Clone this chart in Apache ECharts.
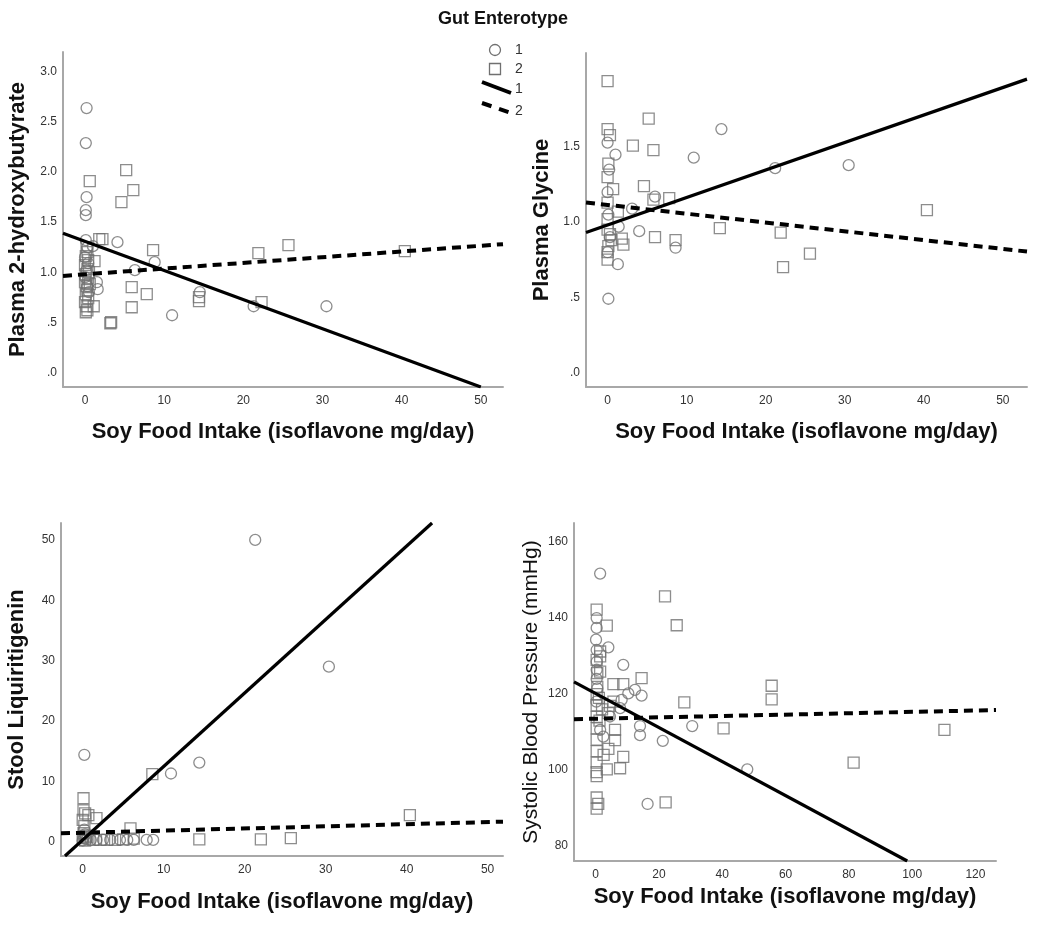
<!DOCTYPE html>
<html>
<head>
<meta charset="utf-8">
<script src="https://cdn.jsdelivr.net/npm/echarts@6/dist/echarts.min.js"></script>
<style>html,body{margin:0;padding:0;background:#fff}#c{width:1050px;height:928px}</style>
</head>
<body>
<div id="c"></div>
<script>
// ---------- DATA ----------
const xTitle = 'Soy Food Intake (isoflavone mg/day)';
const yTitles = ['Plasma 2-hydroxybutyrate', 'Plasma Glycine', 'Stool Liquiritigenin', 'Systolic Blood Pressure (mmHg)'];
const legendTitle = 'Gut Enterotype';
const groupNames = ['1', '2'];

// Panel 1: Plasma 2-hydroxybutyrate
const p1Type1 = [[0.2,2.64],[0.1,2.29],[0.2,1.75],[0.1,1.62],[0.1,1.57],[0.1,1.32],[0.3,1.25],[0.0,1.15],[0.4,1.09],[0.2,1.02],[0.0,0.95],[0.3,0.86],[1.5,0.90],[1.6,0.83],[0.5,0.80],[4.1,1.30],[6.3,1.02],[8.8,1.10],[11.0,0.57],[14.5,0.80],[21.3,0.66],[30.5,0.66],[1.0,1.26]];
const p1Type2 = [[0.6,1.91],[5.2,2.02],[6.1,1.82],[4.6,1.70],[1.8,1.33],[2.2,1.33],[8.6,1.22],[21.9,1.19],[25.7,1.27],[40.4,1.21],[5.9,0.85],[7.8,0.78],[5.9,0.65],[3.2,0.49],[3.3,0.50],[14.4,0.71],[14.4,0.75],[22.3,0.70],[1.1,0.66],[1.2,1.11],[0.2,1.25],[0.3,1.20],[0.1,1.16],[0.4,1.12],[0.0,1.07],[0.3,1.03],[0.1,0.98],[0.4,0.94],[0.0,0.90],[0.2,0.86],[0.3,0.82],[0.1,0.78],[0.4,0.74],[0.0,0.70],[0.2,0.66],[0.3,0.62],[0.1,0.60],[0.5,1.00],[0.6,0.88]];
const p1Fit1 = [[-2.78,1.39],[50.0,-0.147]];
const p1Fit2 = [[-2.78,0.963],[52.8,1.28]];

// Panel 2: Plasma Glycine
const p2Type1 = [[14.4,1.62],[10.9,1.43],[21.2,1.36],[30.5,1.38],[4.0,0.94],[8.6,0.83],[0.1,0.49],[0.0,1.53],[1.0,1.45],[1.3,0.72],[6.0,1.17],[3.1,1.09],[1.4,0.97],[0.0,1.20],[0.2,1.35],[0.1,1.05],[0.3,0.90],[0.0,0.80]];
const p2Type2 = [[0.0,1.94],[5.2,1.69],[0.0,1.62],[0.3,1.58],[3.2,1.51],[5.8,1.48],[0.1,1.39],[0.0,1.30],[0.7,1.22],[4.6,1.24],[5.8,1.15],[7.8,1.16],[14.2,0.96],[21.9,0.93],[40.4,1.08],[25.6,0.79],[22.2,0.70],[6.0,0.90],[8.6,0.88],[1.8,0.89],[2.0,0.85],[0.5,0.88],[0.0,0.75],[0.1,0.84],[1.3,1.07],[0.0,1.02],[0.0,0.95],[0.0,1.13],[0.0,0.80],[0.3,0.92]];
const p2Fit1 = [[-2.73,0.931],[53.06,1.953]];
const p2Fit2 = [[-2.73,1.131],[53.06,0.804]];

// Panel 3: Stool Liquiritigenin
const p3Type1 = [[21.3,50.0],[30.4,29.0],[0.2,14.4],[14.4,13.1],[10.9,11.3],[8.7,0.3],[0.1,0.6],[0.3,1.2],[0.5,0.4],[1.0,0.3],[1.7,0.3],[2.5,0.3],[3.4,0.3],[4.6,0.3],[5.5,0.3],[6.3,0.3],[7.9,0.3],[0.2,2.0],[0.0,0.2]];
const p3Type2 = [[8.6,11.2],[40.4,4.4],[0.1,7.2],[0.1,5.2],[0.3,4.7],[0.7,4.4],[1.7,3.9],[5.9,2.2],[14.4,0.4],[22.0,0.4],[25.7,0.6],[0.1,1.4],[0.0,0.6],[0.2,2.6],[0.4,1.0],[6.3,0.5],[5.0,0.4],[1.3,0.3],[0.0,3.6],[0.3,0.2],[0.6,0.8],[2.2,0.3],[3.0,0.3],[4.0,0.3]];
const p3Fit1 = [[-2.19,-2.37],[43.14,52.8]];
const p3Fit2 = [[-2.68,1.39],[51.9,3.32]];

// Panel 4: Systolic Blood Pressure
const p4Type1 = [[1.4,151.7],[0.3,140.0],[0.3,137.4],[0.1,134.3],[0.3,131.6],[4.0,132.3],[8.7,127.7],[14.5,119.6],[14.0,111.6],[14.0,109.2],[21.2,107.7],[30.5,111.6],[47.9,100.2],[16.4,91.1],[0.3,128.5],[0.3,126.4],[0.3,124.0],[10.3,120.2],[12.4,121.1],[8.2,118.5],[4.5,114.1],[7.7,116.3],[1.4,110.6],[2.4,108.8],[0.5,121.5],[0.2,118.0]];
const p4Type2 = [[21.9,145.7],[25.6,138.1],[0.3,142.2],[3.5,138.0],[0.3,129.0],[1.4,129.9],[0.5,125.5],[5.6,122.6],[8.7,122.6],[14.5,124.2],[28.0,117.8],[55.6,122.2],[55.6,118.6],[40.4,111.0],[110.2,110.6],[81.5,102.0],[22.1,91.5],[7.7,100.5],[8.7,103.5],[3.5,100.2],[0.3,98.4],[0.3,92.8],[0.8,91.1],[0.3,89.9],[4.0,105.6],[6.1,110.6],[6.1,107.9],[5.6,118.0],[1.4,131.2],[0.5,121.9],[1.4,125.9],[4.0,115.0],[4.5,116.9],[0.3,120.0],[0.3,117.0],[0.3,114.0],[0.3,111.0],[0.3,108.0],[0.3,105.0],[0.3,102.0],[0.3,99.5],[1.0,119.0],[1.2,113.0],[2.0,116.0],[2.5,104.0]];
const p4Fit1 = [[-6.86,123.2],[98.45,76.1]];
const p4Fit2 = [[-6.86,113.4],[126.5,115.8]];

// Axis ranges and tick steps
const xRanges = [[-2.78,52.8],[-2.73,53.06],[-2.68,51.9],[-6.86,126.5]];
const yRanges = [[-0.147,3.2],[-0.098,2.127],[-2.37,52.8],[76.1,165]];
const xSteps = [10,10,10,20];
const ySteps = [0.5,0.5,10,20];
const yLabelMax = [3.0,1.5,50,160];

// ---------- LAYOUT / STYLE ----------
const grids = [
  {left:63, top:52, width:440, height:335},
  {left:586, top:53, width:441, height:334},
  {left:61, top:523, width:442, height:333},
  {left:574, top:523, width:422, height:338}
];
const xNameGap = [34,34,35,25];
const xNameSize = 22;
const yNameGap = [34,33,33,32];
const yNameSize = [22,22,22,21];
const yNameWeight = ['bold','bold','bold','normal'];
const FONT = 'Liberation Sans, Arial, sans-serif';
const axisLineStyle = {color:'#a8a8a8', width:2};
const markerStroke = '#707070';

const types1 = [p1Type1,p2Type1,p3Type1,p4Type1];
const types2 = [p1Type2,p2Type2,p3Type2,p4Type2];
const fits1 = [p1Fit1,p2Fit1,p3Fit1,p4Fit1];
const fits2 = [p1Fit2,p2Fit2,p3Fit2,p4Fit2];

function fmtY(panel, v){
  if (v > yLabelMax[panel] + 1e-9) return '';
  const step = ySteps[panel];
  if (Math.abs(v/step - Math.round(v/step)) > 1e-6) return '';
  if (step < 1) { return v.toFixed(1).replace(/^0\./,'.').replace(/^-0\./,'-.'); }
  return String(Math.round(v));
}
function fmtX(panel, v){
  const step = xSteps[panel];
  if (Math.abs(v/step - Math.round(v/step)) > 1e-6) return '';
  return String(Math.round(v));
}

const xAxis = [], yAxis = [], series = [];
for (let i=0;i<4;i++){
  xAxis.push({
    type:'value', gridIndex:i, min:xRanges[i][0], max:xRanges[i][1],
    minInterval:xSteps[i], maxInterval:xSteps[i],
    name:xTitle, nameLocation:'middle', nameGap:xNameGap[i],
    nameTextStyle:{fontFamily:FONT, fontSize:xNameSize, fontWeight:'bold', color:'#111'},
    axisLine:{show:true, onZero:false, lineStyle:axisLineStyle}, axisTick:{show:false}, splitLine:{show:false},
    axisLabel:{showMinLabel:false, showMaxLabel:false, margin:8, fontFamily:FONT, fontSize:12, color:'#333', formatter:(v)=>fmtX(i,v)}
  });
  yAxis.push({
    type:'value', gridIndex:i, min:yRanges[i][0], max:yRanges[i][1],
    minInterval:ySteps[i], maxInterval:ySteps[i],
    name:yTitles[i], nameLocation:'middle', nameGap:yNameGap[i],
    nameTextStyle:{fontFamily:FONT, fontSize:yNameSize[i], fontWeight:yNameWeight[i], color:'#111'},
    axisLine:{show:true, onZero:false, lineStyle:axisLineStyle}, axisTick:{show:false}, splitLine:{show:false},
    axisLabel:{showMinLabel:false, showMaxLabel:false, margin:6, fontFamily:FONT, fontSize:12, color:'#333', formatter:(v)=>fmtY(i,v)}
  });
  series.push({
    type:'scatter', name:groupNames[0], xAxisIndex:i, yAxisIndex:i, data:types1[i],
    symbol:'circle', symbolSize:11, z:2,
    itemStyle:{color:'rgba(0,0,0,0)', borderColor:markerStroke, borderWidth:1.3}
  });
  series.push({
    type:'scatter', name:groupNames[1], xAxisIndex:i, yAxisIndex:i, data:types2[i],
    symbol:'rect', symbolSize:11, z:2,
    itemStyle:{color:'rgba(0,0,0,0)', borderColor:markerStroke, borderWidth:1.3}
  });
  series.push({
    type:'line', name:groupNames[0], xAxisIndex:i, yAxisIndex:i, data:fits1[i],
    symbol:'none', clip:true, z:3, silent:true,
    lineStyle:{color:'#000', width:3.2, type:'solid'}
  });
  series.push({
    type:'line', name:groupNames[1], xAxisIndex:i, yAxisIndex:i, data:fits2[i],
    symbol:'none', clip:true, z:3, silent:true,
    lineStyle:{color:'#000', width:4, type:[9,6]}
  });
}

const legendText = {fontFamily:FONT, fontSize:14, fill:'#333'};
const graphic = [
  {type:'text', style:{text:legendTitle, x:503, y:19, fontFamily:FONT, fontSize:18, fontWeight:'bold', fill:'#111', textAlign:'center', textVerticalAlign:'middle'}},
  {type:'circle', shape:{cx:495, cy:50, r:5.5}, style:{fill:'none', stroke:markerStroke, lineWidth:1.3}},
  {type:'text', style:Object.assign({text:groupNames[0], x:515, y:50, textVerticalAlign:'middle'}, legendText)},
  {type:'rect', shape:{x:489.5, y:63.5, width:11, height:11}, style:{fill:'none', stroke:markerStroke, lineWidth:1.3}},
  {type:'text', style:Object.assign({text:groupNames[1], x:515, y:69, textVerticalAlign:'middle'}, legendText)},
  {type:'line', shape:{x1:482, y1:82, x2:511, y2:93}, style:{stroke:'#000', lineWidth:4}},
  {type:'text', style:Object.assign({text:groupNames[0], x:515, y:89, textVerticalAlign:'middle'}, legendText)},
  {type:'line', shape:{x1:482, y1:103, x2:511, y2:113}, style:{stroke:'#000', lineWidth:4, lineDash:[10,8]}},
  {type:'text', style:Object.assign({text:groupNames[1], x:515, y:111, textVerticalAlign:'middle'}, legendText)}
];

const chart = echarts.init(document.getElementById('c'), null, {renderer:'canvas'});
chart.setOption({
  animation:false,
  backgroundColor:'#fff',
  grid:grids,
  xAxis:xAxis,
  yAxis:yAxis,
  series:series,
  graphic:graphic
});
</script>
</body>
</html>
